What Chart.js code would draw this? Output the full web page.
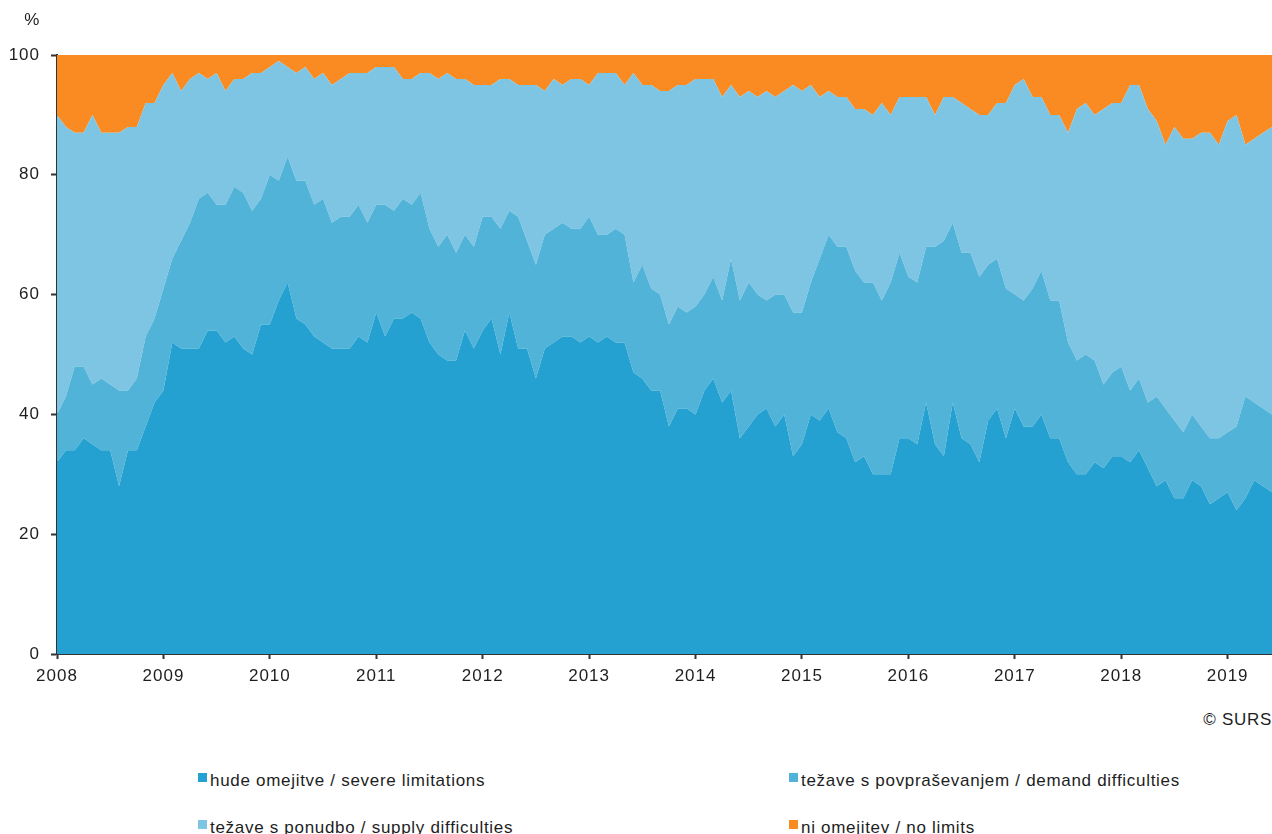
<!DOCTYPE html>
<html>
<head>
<meta charset="utf-8">
<title>Omejitve v gradbeništvu</title>
<script src="https://cdn.jsdelivr.net/npm/chart.js@4.4.1/dist/chart.umd.min.js"></script>
<style>
  html, body { margin: 0; padding: 0; background: #fff; }
  body { width: 1272px; height: 834px; position: relative; overflow: hidden;
         font-family: "Liberation Sans", Arial, sans-serif; color: #1e1e1e; }
  #wrap { position: absolute; left: 0; top: 0; width: 1272px; height: 700px; }
  .txt { position: absolute; font-size: 17px; line-height: 17px; letter-spacing: 0.7px; white-space: nowrap; }
  .sw { position: absolute; width: 9px; height: 9px; }
</style>
</head>
<body>
<div id="wrap"><canvas id="chart" width="1272" height="700"></canvas></div>
<div class="txt" style="left:0; width:40px; text-align:right; top:11px;">%</div>
<div class="txt" style="right:0; top:711px;">© SURS</div>
<div id="legend"></div>
<script>
// Year labels on the time axis (one tick every 12 months, starting January 2008)
const yearLabels = ['2008','2009','2010','2011','2012','2013','2014','2015','2016','2017','2018','2019'];

// Monthly shares in %, January 2008 – June 2019
const severe = [
  32,34,34,36,35,34,34,28,34,34,38,42,
  44,52,51,51,51,54,54,52,53,51,50,55,
  55,59,62,56,55,53,52,51,51,51,53,52,
  57,53,56,56,57,56,52,50,49,49,54,51,
  54,56,50,57,51,51,46,51,52,53,53,52,
  53,52,53,52,52,47,46,44,44,38,41,41,
  40,44,46,42,44,36,38,40,41,38,40,33,
  35,40,39,41,37,36,32,33,30,30,30,36,
  36,35,42,35,33,42,36,35,32,39,41,36,
  41,38,38,40,36,36,32,30,30,32,31,33,
  33,32,34,31,28,29,26,26,29,28,25,26,
  27,24,26,29,28,27
];
const demand = [
   8, 9,14,12,10,12,11,16,10,12,15,14,
  17,14,18,21,25,23,21,23,25,26,24,21,
  25,20,21,23,24,22,24,21,22,22,22,20,
  18,22,18,20,18,21,19,18,21,18,16,17,
  19,17,21,17,22,18,19,19,19,19,18,19,
  20,18,17,19,18,15,19,17,16,17,17,16,
  18,16,17,17,22,23,24,20,18,22,20,24,
  22,22,27,29,31,32,32,29,32,29,32,31,
  27,27,26,33,36,30,31,32,31,26,25,25,
  19,21,23,24,23,23,20,19,20,17,14,14,
  15,12,12,11,15,12,13,11,11,10,11,10,
  10,14,17,13,13,13
];
const supply = [
  50,45,39,39,45,41,42,43,44,42,39,36,
  34,31,25,24,21,19,22,19,18,19,23,21,
  18,20,15,18,19,21,21,23,23,24,22,25,
  23,23,24,20,21,20,26,28,27,29,26,27,
  22,22,25,22,22,26,30,24,25,23,25,25,
  22,27,27,26,25,35,30,34,34,39,37,38,
  38,36,33,34,29,34,32,33,35,33,34,38,
  37,33,27,24,25,25,27,29,28,33,28,26,
  30,31,25,22,24,21,25,24,27,25,26,31,
  35,37,32,29,31,31,35,42,42,41,46,45,
  44,51,49,49,46,44,49,49,46,49,51,49,
  52,52,42,44,46,48
];
const noLimits = [
  10,12,13,13,10,13,13,13,12,12, 8, 8,
   5, 3, 6, 4, 3, 4, 3, 6, 4, 4, 3, 3,
   2, 1, 2, 3, 2, 4, 3, 5, 4, 3, 3, 3,
   2, 2, 2, 4, 4, 3, 3, 4, 3, 4, 4, 5,
   5, 5, 4, 4, 5, 5, 5, 6, 4, 5, 4, 4,
   5, 3, 3, 3, 5, 3, 5, 5, 6, 6, 5, 5,
   4, 4, 4, 7, 5, 7, 6, 7, 6, 7, 6, 5,
   6, 5, 7, 6, 7, 7, 9, 9,10, 8,10, 7,
   7, 7, 7,10, 7, 7, 8, 9,10,10, 8, 8,
   5, 4, 7, 7,10,10,13, 9, 8,10, 9, 8,
   8, 5, 5, 9,11,15,12,14,14,13,13,15,
  11,10,15,14,13,12
];

const seriesNames = [
  'hude omejitve / severe limitations',
  'težave s povpraševanjem / demand difficulties',
  'težave s ponudbo / supply difficulties',
  'ni omejitev / no limits'
];
const seriesColors = ['#25a1d1', '#52b3d9', '#7dc5e3', '#fa8a22'];
const seriesValues = [severe, demand, supply, noLimits];

const FONT = '"Liberation Sans", Arial, sans-serif';
const AXIS = '#333333';

// stacked areas: each layer fills down to the one below it
const datasets = seriesValues.map((vals, k) => ({
  label: seriesNames[k],
  data: vals.map((v, i) => ({ x: i, y: v })),
  backgroundColor: seriesColors[k],
  borderColor: 'rgba(0,0,0,0)',
  borderWidth: 0,
  pointRadius: 0,
  pointHoverRadius: 0,
  tension: 0,
  fill: k === 0 ? 'origin' : '-1'
}));

// slightly wider glyph spacing for the axis labels
const labelSpacing = {
  id: 'labelSpacing',
  beforeDraw(chart) { chart.ctx.letterSpacing = '1px'; }
};

new Chart(document.getElementById('chart'), {
  type: 'line',
  data: { datasets },
  plugins: [labelSpacing],
  options: {
    responsive: false,
    animation: false,
    events: [],
    layout: { padding: { top: 55, left: 0, right: 0, bottom: 0 } },
    plugins: { legend: { display: false }, tooltip: { enabled: false } },
    scales: {
      x: {
        type: 'linear',
        min: 0,
        max: severe.length - 1,
        grid: { drawOnChartArea: false, drawTicks: true, tickLength: 5, tickColor: AXIS, tickWidth: 2 },
        border: { display: true, color: AXIS, width: 2 },
        ticks: {
          stepSize: 12,
          includeBounds: false,
          autoSkip: false,
          maxRotation: 0,
          padding: 7,
          color: '#1e1e1e',
          font: { family: FONT, size: 17 },
          callback: v => yearLabels[v / 12] ?? ''
        },
        afterFit(scale) { scale.height = 46; }
      },
      y: {
        stacked: true,
        min: 0,
        max: 100,
        grid: { drawOnChartArea: false, drawTicks: true, tickLength: 6, tickColor: AXIS, tickWidth: 2 },
        border: { display: true, color: AXIS, width: 2 },
        ticks: {
          stepSize: 20,
          padding: 11,
          color: '#1e1e1e',
          font: { family: FONT, size: 17 }
        },
        afterFit(scale) { scale.width = 57; }
      }
    }
  }
});

// two-column legend below the chart
const legendPos = [
  { sx: 198, tx: 210, row: 0 },
  { sx: 789, tx: 801, row: 0 },
  { sx: 198, tx: 210, row: 1 },
  { sx: 789, tx: 801, row: 1 }
];
const legend = document.getElementById('legend');
seriesNames.forEach((name, k) => {
  const p = legendPos[k];
  const top = 772 + p.row * 47;
  const sw = document.createElement('div');
  sw.className = 'sw';
  sw.style.left = p.sx + 'px';
  sw.style.top = (top + 1) + 'px';
  sw.style.background = seriesColors[k];
  legend.appendChild(sw);
  const t = document.createElement('div');
  t.className = 'txt';
  t.style.left = p.tx + 'px';
  t.style.top = top + 'px';
  t.textContent = name;
  legend.appendChild(t);
});
</script>
</body>
</html>
